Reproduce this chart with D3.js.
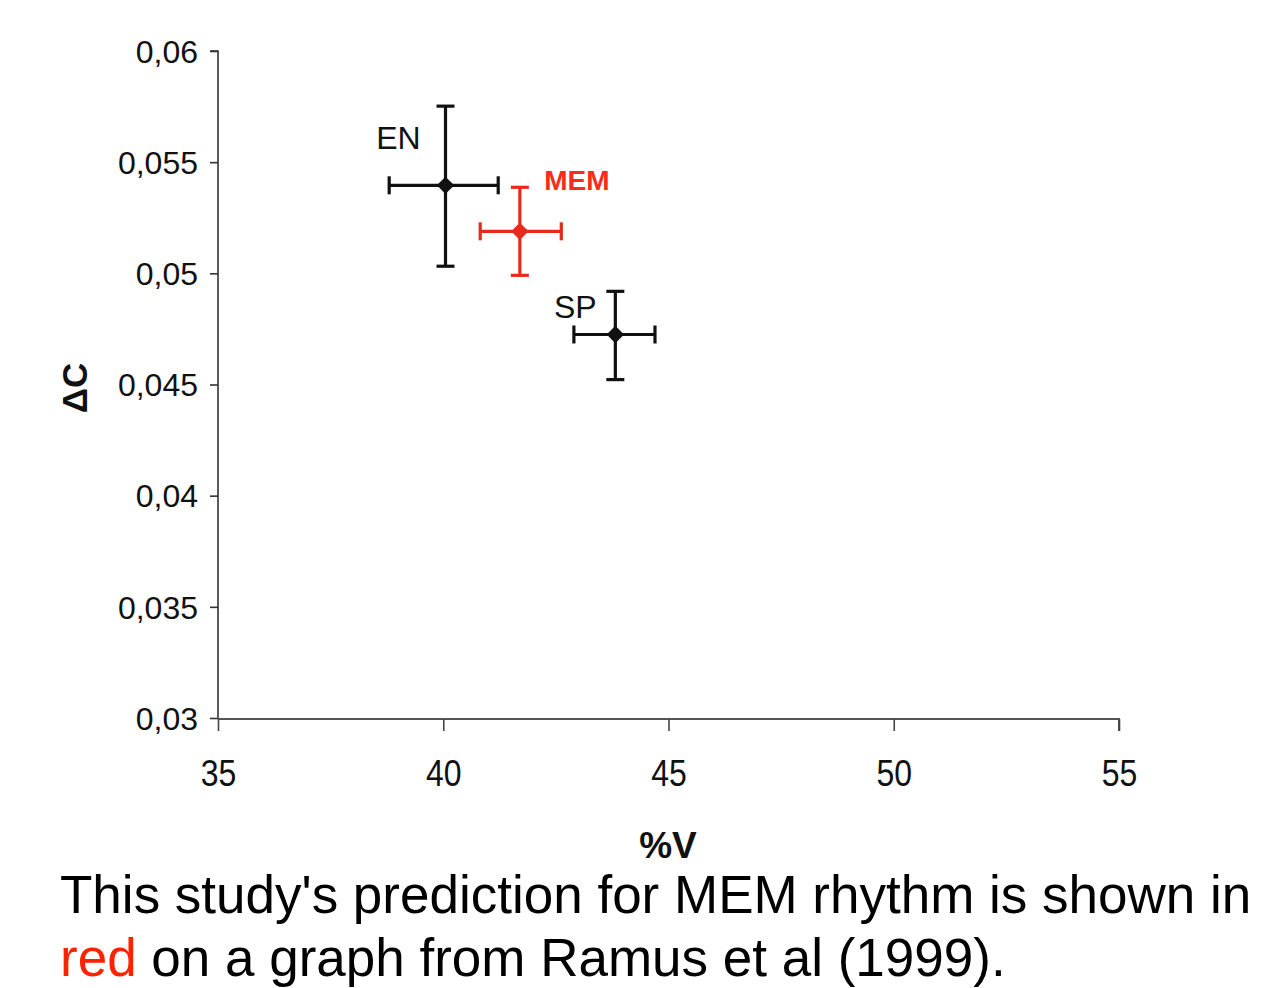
<!DOCTYPE html>
<html><head><meta charset="utf-8">
<script src="https://cdn.jsdelivr.net/npm/d3@7"></script>
<style>body{margin:0;background:#fff;} svg{display:block;}</style>
</head><body>
<svg id="chart" width="1263" height="988"></svg>
<script>
const groups = ["EN", "MEM", "SP"];
const vPercent = [40.05, 41.7, 43.82];
const vLow = [38.8, 40.82, 42.9];
const vHigh = [41.22, 42.62, 44.7];
const deltaC = [0.05396, 0.05189, 0.04725];
const cLow = [0.05032, 0.04991, 0.04522];
const cHigh = [0.05752, 0.05387, 0.04919];
const xTicks = [35, 40, 45, 50, 55];
const yTicks = [0.03, 0.035, 0.04, 0.045, 0.05, 0.055, 0.06];
const colors = ["#111", "#e62a1c", "#111"];

const svg = d3.select("#chart");
const x = d3.scaleLinear().domain([35, 55]).range([218, 1119]);
const y = d3.scaleLinear().domain([0.03, 0.06]).range([718, 51]);
const fmt = d => d3.format("")(+d.toFixed(3)).replace(".", ",");
const tickFont = "'Liberation Sans', Arial, sans-serif";

// Y axis
const ya = svg.append("g").attr("transform", "translate(218,0)")
  .call(d3.axisLeft(y).tickValues(yTicks).tickFormat(fmt).tickSize(8).tickPadding(12));
ya.select(".domain").attr("stroke", "#333").attr("stroke-width", 1.6).attr("d", "M-8,51H0V718");
ya.selectAll(".tick line").attr("stroke", "#333").attr("stroke-width", 1.6);
ya.selectAll(".tick text").attr("font-family", tickFont).attr("font-size", 32).attr("fill", "#111")
  .attr("dy", "0.35em");

// X axis
const xa = svg.append("g").attr("transform", "translate(0,719)")
  .call(d3.axisBottom(x).tickValues(xTicks).tickSize(12));
xa.select(".domain").attr("stroke", "#555").attr("stroke-width", 2).attr("d", "M218,0H1119V12");
xa.selectAll(".tick line").attr("stroke", "#444").attr("stroke-width", 1.6);
xa.selectAll(".tick text").attr("font-family", tickFont).attr("font-size", 32).attr("fill", "#111")
  .attr("y", null).attr("dy", null).attr("transform", "translate(0,67) scale(1,1.15)");

// Axis titles
svg.append("text").attr("transform", "translate(87,388) rotate(-90)").attr("text-anchor", "middle")
  .attr("font-family", "'Liberation Sans', Arial, sans-serif").attr("font-weight", "bold").attr("font-size", 35)
  .attr("fill", "#111").text("ΔC");
svg.append("text").attr("x", 668).attr("y", 858).attr("text-anchor", "middle")
  .attr("font-family", "'Liberation Sans', Arial, sans-serif").attr("font-weight", "bold").attr("font-size", 37)
  .attr("fill", "#111").text("%V");

// Error bars and points
const cap = 9;
groups.forEach((g, i) => {
  const gg = svg.append("g").attr("stroke", colors[i]).attr("stroke-width", 3.2).attr("fill", "none");
  const cx = x(vPercent[i]), cy = y(deltaC[i]);
  gg.append("line").attr("x1", x(vLow[i])).attr("x2", x(vHigh[i])).attr("y1", cy).attr("y2", cy);
  gg.append("line").attr("x1", cx).attr("x2", cx).attr("y1", y(cHigh[i])).attr("y2", y(cLow[i]));
  gg.append("line").attr("x1", x(vLow[i])).attr("x2", x(vLow[i])).attr("y1", cy - cap).attr("y2", cy + cap);
  gg.append("line").attr("x1", x(vHigh[i])).attr("x2", x(vHigh[i])).attr("y1", cy - cap).attr("y2", cy + cap);
  gg.append("line").attr("x1", cx - cap).attr("x2", cx + cap).attr("y1", y(cHigh[i])).attr("y2", y(cHigh[i]));
  gg.append("line").attr("x1", cx - cap).attr("x2", cx + cap).attr("y1", y(cLow[i])).attr("y2", y(cLow[i]));
  svg.append("path").attr("d", d3.symbol().type(d3.symbolSquare).size(150)())
    .attr("transform", `translate(${cx},${cy}) rotate(45)`).attr("fill", colors[i]);
});

// Point labels
const labelFont = "'Liberation Sans', Arial, sans-serif";
svg.append("text").attr("x", x(vPercent[0]) - 47).attr("y", 149).attr("text-anchor", "middle")
  .attr("font-family", labelFont).attr("font-size", 32).attr("fill", "#111").text(groups[0]);
svg.append("text").attr("x", x(vPercent[1]) + 57).attr("y", 190).attr("text-anchor", "middle")
  .attr("font-family", labelFont).attr("font-weight", "bold").attr("font-size", 28).attr("fill", "#ff2a1a").text(groups[1]);
svg.append("text").attr("x", x(vPercent[2]) - 40).attr("y", 318).attr("text-anchor", "middle")
  .attr("font-family", labelFont).attr("font-size", 32).attr("fill", "#111").text(groups[2]);

// Caption
svg.append("text").attr("x", 60).attr("y", 913).attr("font-family", "'Liberation Sans', Arial, sans-serif")
  .attr("font-size", 53).attr("fill", "#000").text("This study's prediction for MEM rhythm is shown in");
const cap2 = svg.append("text").attr("x", 60).attr("y", 976).attr("font-family", "'Liberation Sans', Arial, sans-serif")
  .attr("font-size", 53).attr("fill", "#000");
cap2.append("tspan").attr("fill", "#ff2200").text("red");
cap2.append("tspan").text(" on a graph from Ramus et al (1999).");
</script>
</body></html>
